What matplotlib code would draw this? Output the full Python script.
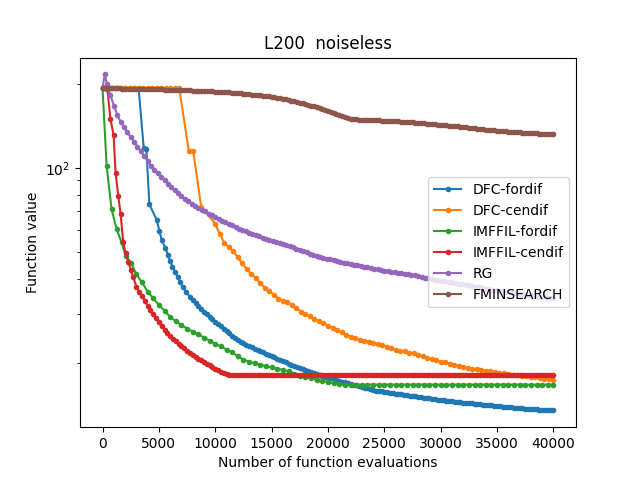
import numpy as np
from matplotlib import pyplot as plt

# evaluation counts and function values

# DFC-fordif
dfc_fd_x = list(range(0, 3201, 400)) + [3650, 3890, 4150, 4800, 5050, 5250, 5580, 5800,
                                         6000, 6200, 6450, 6650, 6900, 7100, 7400, 7750] \
    + list(range(8000, 40001, 250))
dfc_fd_y = [193.0] * 9 + [118, 117, 74, 65, 59.3, 55, 51.5, 48.7,
                          46.2, 44.2, 42.2, 40.6, 38.8, 37.4, 35.9, 34.5] + [
    33.6, 32.8, 32.0, 31.2, 30.5, 29.8, 29.2, 28.6, 28.0, 27.5,
    27.0, 26.5, 26.0, 25.5, 25.0, 24.6, 24.2, 23.8, 23.5, 23.2,
    22.95, 22.7, 22.45, 22.2, 22.0, 21.8, 21.55, 21.35, 21.1, 20.9,
    20.7, 20.5, 20.25, 20.05, 19.85, 19.65, 19.5, 19.3, 19.15, 18.95,
    18.85, 18.7, 18.55, 18.4, 18.25, 18.1, 17.95, 17.8, 17.7, 17.6,
    17.45, 17.35, 17.25, 17.1, 17.0, 16.9, 16.8, 16.7, 16.6, 16.5,
    16.4, 16.3, 16.2, 16.1, 16.0, 15.9, 15.85, 15.8, 15.75, 15.7,
    15.6, 15.55, 15.5, 15.45, 15.4, 15.35, 15.3, 15.25, 15.2, 15.15,
    15.1, 15.05, 15.0, 14.95, 14.9, 14.85, 14.8, 14.75, 14.7, 14.65,
    14.6, 14.57, 14.53, 14.5, 14.47, 14.43, 14.4, 14.37, 14.33, 14.3,
    14.27, 14.23, 14.2, 14.17, 14.13, 14.1, 14.07, 14.03, 14.0, 13.97,
    13.94, 13.91, 13.88, 13.85, 13.82, 13.79, 13.76, 13.73, 13.7, 13.67,
    13.65, 13.63, 13.61, 13.59, 13.57, 13.55, 13.53, 13.52, 13.5]

# DFC-cendif
dfc_cd_x = list(range(0, 6801, 400)) + [7650, 8040, 8750] + list(range(10000, 40001, 400))
dfc_cd_y = [193.0] * 18 + [115, 115, 72.5] + [
    63.0, 57.8, 53.8, 52.0, 50.3, 47.7, 45.4, 43.2, 41.7, 40.2,
    38.5, 37.2, 36.1, 35.1, 33.9, 33.4, 33.0, 32.3, 31.5, 30.5,
    29.9, 29.3, 28.7, 28.2, 27.7, 27.2, 26.7, 26.2, 25.7, 25.25,
    24.8, 24.45, 24.2, 24.0, 23.8, 23.55, 23.3, 23.1, 22.85, 22.55,
    22.3, 22.1, 21.95, 21.75, 21.6, 21.35, 21.1, 20.85, 20.6, 20.4,
    20.2, 20.05, 19.85, 19.7, 19.55, 19.35, 19.2, 19.05, 18.95, 18.85,
    18.75, 18.65, 18.55, 18.45, 18.35, 18.25, 18.15, 18.05, 18.0, 17.9,
    17.85, 17.75, 17.65, 17.55, 17.5,
    17.4]

# IMFFIL-fordif
imf_fd_x = [0, 360, 800, 1250, 1690, 2050, 2550] + list(range(3000, 40001, 500))
imf_fd_y = [193, 101.7, 71, 60.2, 54, 48.3, 45.5] + [
    41.5, 38.8, 36.0, 34.0, 32.3, 30.7, 29.2, 28.2, 27.3, 26.5,
    25.8, 25.3, 24.6, 24.0, 23.4, 22.9, 22.3, 21.8, 21.1, 20.5,
    20.2, 19.9, 19.7, 19.45, 19.25, 19.05, 18.85, 18.65, 18.3, 17.95,
    17.8, 17.6, 17.4, 17.2, 17.05, 16.9, 16.8, 16.7, 16.7, 16.7] + [16.7] * 35

# IMFFIL-cendif
imf_cd_x = [0, 430, 690, 980, 1160, 1400, 1600, 1840, 2050, 2290, 2490, 2730] \
    + list(range(3000, 11251, 250)) + list(range(11500, 40001, 250))
imf_cd_y = [193, 192, 150, 131, 95.5, 79, 68.3, 54, 49.4, 46, 43.1, 40.5] + [
    37.5, 36.0, 34.8, 33.4, 32.0, 30.9, 29.8, 28.9, 27.9, 27.0,
    26.3, 25.6, 25.0, 24.4, 23.9, 23.4, 22.9, 22.5, 22.1, 21.7,
    21.35, 21.0, 20.7, 20.4, 20.1, 19.85, 19.6, 19.3, 19.05, 18.8,
    18.55, 18.35, 18.2, 18.1] + [18.1] * 115

# RG
rg_x = [0, 200] + list(range(400, 40001, 300))
rg_y = [193, 216] + [
    199, 182, 167, 155, 146, 140, 134, 128.5, 124, 119,
    114.5, 110, 105.5, 101.7, 98.5, 95.6, 92.8, 90.2, 87.7, 85.4,
    83.2, 81.0, 79.0, 77.3, 75.8, 74.4, 73.2, 72.0, 70.8, 69.7,
    68.5, 67.5, 66.5, 65.5, 64.6, 63.7, 62.9, 62.1, 61.3, 60.5,
    59.8, 59.1, 58.5, 57.9, 57.3, 56.7, 56.1, 55.6, 55.1, 54.6,
    54.1, 53.6, 53.2, 52.7, 52.3, 51.8, 51.3, 50.8, 50.2, 49.7,
    49.2, 48.7, 48.3, 48.0, 47.6, 47.2, 46.9, 46.6, 46.3, 46.0,
    45.7, 45.4, 45.2, 44.95, 44.75, 44.5, 44.2, 44.0, 43.7, 43.4,
    43.2, 42.95, 42.7, 42.5, 42.4, 42.2, 42.0, 41.85, 41.7, 41.55,
    41.4, 41.2, 40.9, 40.6, 40.35, 40.1, 39.9, 39.75, 39.55, 39.35,
    39.2, 39.0, 38.8, 38.6, 38.4, 38.2, 38.0, 37.85, 37.6, 37.45,
    37.25, 37.05, 36.9, 36.7, 36.5, 36.35, 36.2, 36.05, 35.9, 35.75,
    35.6, 35.45, 35.3, 35.15, 35.0, 34.85, 34.7, 34.55, 34.4, 34.3,
    34.2, 34.1, 34.0]

# FMINSEARCH
fmin_x = list(range(0, 40001, 250))
fmin_y = [
    193.0, 192.9, 192.8, 192.6, 192.5, 192.4, 192.3, 192.2, 192.1, 192.0,
    191.9, 191.8, 191.6, 191.5, 191.4, 191.3, 191.2, 191.1, 191.0, 190.9,
    190.8, 190.7, 190.6, 190.5, 190.4, 190.2, 190.1, 190.0, 189.8, 189.6,
    189.4, 189.2, 189.0, 188.8, 188.6, 188.4, 188.3, 188.1, 187.9, 187.6,
    187.3, 187.1, 186.9, 186.6, 186.4, 186.1, 185.9, 185.6, 185.2, 184.8,
    184.4, 183.9, 183.4, 182.9, 182.5, 182.1, 181.7, 181.2, 180.7, 180.1,
    179.5, 178.9, 178.2, 177.5, 176.7, 175.9, 175.0, 174.1, 173.1, 172.1,
    171.0, 170.0, 169.0, 168.1, 167.1, 166.0, 164.9, 163.8, 162.5, 161.2,
    159.5, 158.0, 156.5, 155.2, 154.0, 152.8, 151.6, 150.6, 149.9, 149.4,
    149.0, 148.7, 148.5, 148.4, 148.3, 148.2, 148.1, 148.0, 147.8, 147.6,
    147.5, 147.3, 147.1, 146.9, 146.7, 146.5, 146.3, 146.0, 145.8, 145.5,
    145.3, 145.0, 144.8, 144.5, 144.3, 144.0, 143.7, 143.4, 143.1, 142.8,
    142.5, 142.2, 141.9, 141.6, 141.3, 141.0, 140.6, 140.3, 139.9, 139.6,
    139.2, 138.8, 138.5, 138.1, 137.7, 137.4, 137.0, 136.7, 136.3, 136.0,
    135.7, 135.4, 135.2, 134.9, 134.7, 134.5, 134.3, 134.1, 133.9, 133.7,
    133.5, 133.3, 133.1, 132.9, 132.7, 132.6, 132.4, 132.3, 132.2, 132.1,
    132.0]

series = [
    ('DFC-fordif', dfc_fd_x, dfc_fd_y),
    ('DFC-cendif', dfc_cd_x, dfc_cd_y),
    ('IMFFIL-fordif', imf_fd_x, imf_fd_y),
    ('IMFFIL-cendif', imf_cd_x, imf_cd_y),
    ('RG', rg_x, rg_y),
    ('FMINSEARCH', fmin_x, fmin_y),
]

fig, ax = plt.subplots(figsize=(6.4, 4.8), dpi=100)
for name, xs, ys in series:
    ax.semilogy(np.array(xs), np.array(ys), '.-', label=name)

ax.set_title('L200  noiseless')
ax.set_xlabel('Number of function evaluations')
ax.set_ylabel('Function value')
ax.legend(loc='center right')

fig.savefig('out.png')
